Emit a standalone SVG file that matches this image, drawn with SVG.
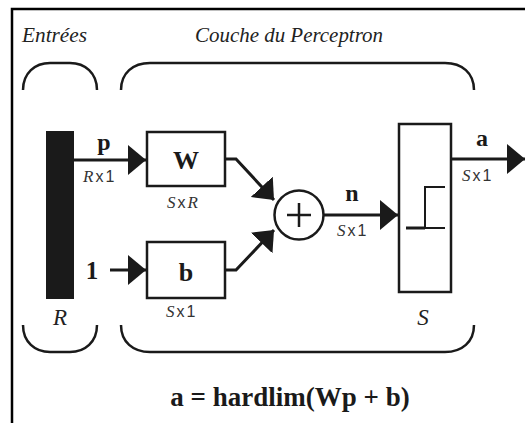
<svg xmlns="http://www.w3.org/2000/svg" width="525" height="423" viewBox="0 0 525 423">
<style>
.ttl{font-family:"Liberation Serif",serif;font-style:italic;font-size:20px;fill:#222}
.bl{font-family:"Liberation Serif",serif;font-weight:bold;fill:#1a1a1a}
.dim{font-family:"Liberation Sans",sans-serif;font-size:16px;fill:#333;letter-spacing:2px}
.it{font-family:"Liberation Serif",serif;font-style:italic}
.br{fill:none;stroke:#1a1a1a;stroke-width:2.5}
.box{fill:#fff;stroke:#1a1a1a;stroke-width:2.5}
.ln{fill:none;stroke:#1a1a1a;stroke-width:3}
</style>
<defs>
<marker id="ah" viewBox="0 0 18 30" refX="18" refY="15" markerWidth="18" markerHeight="30" markerUnits="userSpaceOnUse" orient="auto">
<path d="M0,0 L18,15 L0,30 Z" fill="#1a1a1a"/>
</marker>
</defs>
<rect width="525" height="423" fill="#fff"/>
<path d="M12,423 V9 H525" fill="none" stroke="#000" stroke-width="2.5"/>
<text class="ttl" x="22" y="42" textLength="65" lengthAdjust="spacingAndGlyphs">Entrées</text>
<text class="ttl" x="195" y="42" textLength="188" lengthAdjust="spacingAndGlyphs">Couche du Perceptron</text>
<g id="brackets">
<path class="br" d="M23,90 C23,73 35,63 50,63 H70 C85,63 97,73 97,90"/>
<path class="br" d="M23,325 C23,342 35,352 50,352 H70 C85,352 97,342 97,325"/>
<path class="br" d="M121,90 C121,73 133,63 150,63 H445 C462,63 474,73 474,90"/>
<path class="br" d="M121,325 C121,342 133,352 150,352 H445 C462,352 474,342 474,325"/>
</g>
<g id="input">
<rect x="46" y="131" width="28" height="168" fill="#1a1a1a"/>
<text class="it" x="60" y="325" font-size="23" text-anchor="middle" fill="#222">R</text>
</g>
<g id="connectors">
<path class="ln" d="M74,160 H146" marker-end="url(#ah)"/>
<path class="ln" d="M110,270 H146" marker-end="url(#ah)"/>
<path class="ln" d="M225,159 H236 L274,200" marker-end="url(#ah)"/>
<path class="ln" d="M225,270 H236 L274,230" marker-end="url(#ah)"/>
<path class="ln" d="M323,215 H398" marker-end="url(#ah)"/>
<path class="ln" d="M451,159 H525" marker-end="url(#ah)"/>
</g>
<g id="labels">
<text class="bl" x="104" y="150" font-size="24" text-anchor="middle">p</text>
<text class="dim" x="83" y="182"><tspan class="it" font-size="17">R</tspan>x1</text>
<text class="bl" x="92" y="279" font-size="25" text-anchor="middle">1</text>
<text class="bl" x="352" y="201" font-size="24" text-anchor="middle">n</text>
<text class="dim" x="337" y="236"><tspan class="it" font-size="17">S</tspan>x1</text>
<text class="bl" x="482" y="146" font-size="24" text-anchor="middle">a</text>
<text class="dim" x="462" y="181"><tspan class="it" font-size="17">S</tspan>x1</text>
</g>
<g id="W">
<rect class="box" x="147" y="132" width="78" height="54"/>
<text class="bl" x="186" y="169" font-size="26" text-anchor="middle">W</text>
<text class="dim" x="167" y="208"><tspan class="it" font-size="17">S</tspan>x<tspan class="it" font-size="17">R</tspan></text>
</g>
<g id="b">
<rect class="box" x="147" y="242" width="78" height="56"/>
<text class="bl" x="186" y="281" font-size="26" text-anchor="middle">b</text>
<text class="dim" x="166" y="317"><tspan class="it" font-size="17">S</tspan>x1</text>
</g>
<g id="sum">
<circle cx="299" cy="215" r="24.5" fill="#fff" stroke="#1a1a1a" stroke-width="2.5"/>
<path d="M287,215 H311 M299,203 V227" stroke="#1a1a1a" stroke-width="2.5"/>
</g>
<g id="hardlim">
<rect class="box" x="399" y="124" width="52" height="168" stroke-width="3"/>
<path d="M406,228 H425" stroke="#1a1a1a" stroke-width="3"/>
<path d="M425,228 H445 M425,228 V187 H445" fill="none" stroke="#1a1a1a" stroke-width="2"/>
<text class="it" x="423" y="325" font-size="23" text-anchor="middle" fill="#222">S</text>
</g>
<text class="bl" x="290" y="406" font-size="27" text-anchor="middle">a = hardlim(Wp + b)</text>
</svg>
